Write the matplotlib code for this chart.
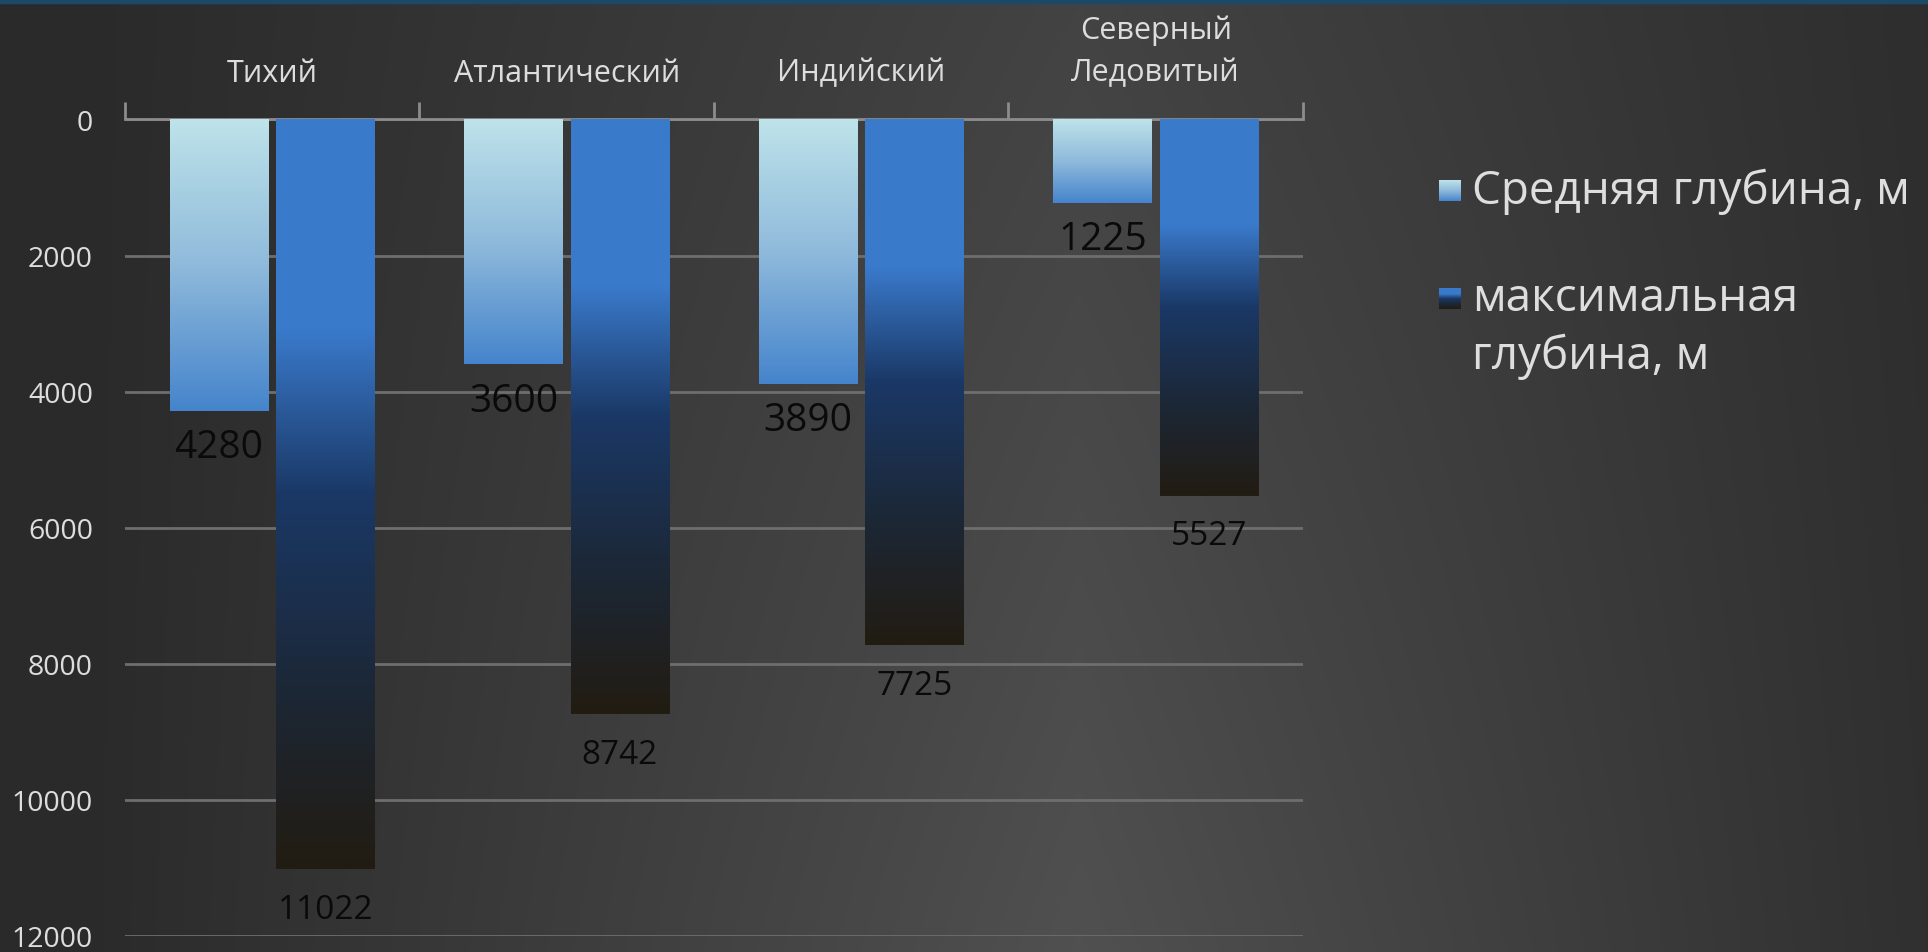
import numpy as np
import matplotlib
matplotlib.use('Agg')
import matplotlib.pyplot as plt
from matplotlib.colors import LinearSegmentedColormap

plt.rcParams['font.family'] = ['Open Sans', 'DejaVu Sans']

# data
oceans = ['Тихий', 'Атлантический', 'Индийский', 'Северный\nЛедовитый']
mean_depth = [4280, 3600, 3890, 1225]
max_depth = [11022, 8742, 7725, 5527]
series_names = ['Средняя глубина, м', 'максимальная\nглубина, м']
y_ticks = [0, 2000, 4000, 6000, 8000, 10000, 12000]

# gradients (top -> bottom of each bar)
light_cmap = LinearSegmentedColormap.from_list(
    'light', ['#bee3ea', '#8fbadb', '#4584cc'])
dark_cmap = LinearSegmentedColormap.from_list(
    'dark', [(0.0, '#3a7acb'), (0.28, '#3a7acb'), (0.5, '#1a3866'),
             (0.75, '#1c2838'), (1.0, '#221c12')])

fig = plt.figure(figsize=(19.28, 9.53), dpi=100)

# background: grey, lighter towards the lower middle
bg = fig.add_axes([0, 0, 1, 1], zorder=-10)
yy, xx = np.mgrid[0:1:200j, 0:1:400j]
hx = np.clip(1 - np.abs(xx - 0.56) / 0.52, 0, 1)
hy = 1 - 0.35 * yy
val = 0.165 + 0.15 * hx * hy
bg.imshow(np.dstack([val, val, val]), extent=[0, 1, 0, 1], aspect='auto',
          origin='lower', interpolation='bilinear')
bg.axhspan(0.996, 1.0, color='#1b4a66')
bg.set_xlim(0, 1)
bg.set_ylim(0, 1)
bg.axis('off')

ax = fig.add_axes([0.0648, 0.0168, 0.611, 0.8568])
ax.patch.set_alpha(0)

x = np.arange(len(oceans))
w = 0.333
off = 0.181
grad = np.linspace(0, 1, 256).reshape(-1, 1)

bars_light = ax.bar(x - off, mean_depth, w, color='none', zorder=3)
bars_dark = ax.bar(x + off, max_depth, w, color='none', zorder=3)

for bars, cmap in [(bars_light, light_cmap), (bars_dark, dark_cmap)]:
    for b in bars:
        x0 = b.get_x()
        x1 = x0 + b.get_width()
        h = b.get_height()
        ax.imshow(grad, cmap=cmap, extent=[x0, x1, h, 0], aspect='auto',
                  origin='upper', zorder=3, interpolation='bilinear')

for b, v in zip(bars_light, mean_depth):
    ax.annotate(str(v), (b.get_x() + b.get_width() / 2, v),
                xytext=(0, -26), textcoords='offset points',
                ha='center', va='center', fontsize=28, color='#0a0a0a', zorder=4)
for b, v in zip(bars_dark, max_depth):
    ax.annotate(str(v), (b.get_x() + b.get_width() / 2, v),
                xytext=(0, -29), textcoords='offset points',
                ha='center', va='center', fontsize=24, color='#0a0a0a', zorder=4)

ax.set_xlim(-0.5, len(oceans) - 0.5)
ax.set_ylim(12000, 0)
ax.set_yticks(y_ticks)
ax.set_yticklabels([str(t) for t in y_ticks])
ax.yaxis.grid(True, color='#6e6e6e', linewidth=2)
ax.set_axisbelow(True)

ax.xaxis.tick_top()
ax.set_xticks(x)
ax.set_xticklabels(oceans, fontsize=22, color='#dddddd', linespacing=1.53)
ax.set_xticks(np.arange(len(oceans) + 1) - 0.5, minor=True)
ax.tick_params(axis='x', which='major', length=0, pad=23)
ax.tick_params(axis='x', which='minor', length=12, width=2, color='#8c8c8c',
               direction='out', top=True, bottom=False)
ax.tick_params(axis='y', length=0, pad=23, labelsize=20.5, labelcolor='#dddddd')

for s in ['left', 'right', 'bottom']:
    ax.spines[s].set_visible(False)
ax.spines['top'].set_color('#8c8c8c')
ax.spines['top'].set_linewidth(2)

# legend drawn by hand with gradient squares
legend_rows = [(light_cmap, 0.788, 0.799, 'center', series_names[0]),
               (dark_cmap, 0.675, 0.7105, 'top', series_names[1])]
for cmap, sq_y, txt_y, va, name in legend_rows:
    lax = fig.add_axes([0.7465, sq_y, 0.011, 0.022])
    lax.imshow(grad, cmap=cmap, aspect='auto', origin='upper')
    lax.axis('off')
    fig.text(0.7635, txt_y, name, fontsize=33, color='#dedede',
             va=va, linespacing=1.33)

fig.savefig('out.png', dpi=100)
